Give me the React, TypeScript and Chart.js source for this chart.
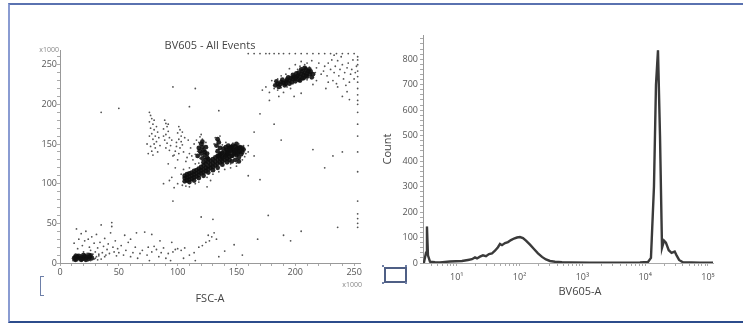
import React, { useEffect, useRef } from "react";
import { Chart, registerables } from "chart.js";
Chart.register(...registerables);

// ---------- Scatter (FSC-A vs BV605, x1000) ----------
const scatterDense: [number, number][] = [
  // debris blob
  [12, 6], [13, 8], [14, 5], [15, 7], [16, 9], [17, 6], [18, 8], [19, 5], [20, 7], [21, 9], [22, 6], [23, 8],
  [24, 5], [25, 7], [26, 9], [27, 6], [14, 9], [18, 4], [22, 4], [25, 10], [13, 4], [20, 10],
  // main streak
  [106, 103], [106, 107], [106, 110], [108, 104], [108, 108], [108, 112], [110, 105], [110, 109], [110, 113], [110, 102],
  [112, 106], [112, 110], [112, 114], [114, 108], [114, 112], [114, 116], [114, 104], [116, 109], [116, 113], [116, 117],
  [118, 111], [118, 115], [118, 119], [118, 107], [120, 113], [120, 117], [120, 121], [122, 114], [122, 118], [122, 123],
  [122, 110], [124, 116], [124, 120], [124, 125], [126, 118], [126, 122], [126, 127], [126, 114], [128, 120], [128, 124],
  [128, 129], [130, 121], [130, 126], [130, 131], [130, 117], [132, 123], [132, 128], [132, 133], [134, 125], [134, 130],
  [134, 135], [134, 120], [136, 127], [136, 132], [136, 137], [138, 128], [138, 134], [138, 139], [138, 124], [140, 130],
  [140, 136], [140, 141], [142, 132], [142, 137], [142, 143], [142, 127], [144, 134], [144, 139], [144, 145], [146, 135],
  [146, 141], [146, 146], [148, 137], [148, 142], [150, 139], [150, 144], [152, 140], [152, 145],
  // finger cores
  [120, 150], [121, 146], [122, 142], [120, 138], [123, 136], [121, 132], [124, 130], [122, 127], [125, 133], [123, 140],
  [118, 145], [119, 141], [124, 146], [121, 153], [125, 138], [126, 131], [117, 135],
  [134, 156], [135, 152], [133, 148], [136, 145], [134, 141], [137, 138], [135, 135], [138, 132],
  [143, 148], [145, 146], [147, 143], [149, 147], [151, 144], [153, 141], [148, 139], [150, 136], [152, 133], [146, 135],
  [144, 130], [154, 137], [149, 130], [142, 140], [155, 145],
  [141, 135], [143, 138], [145, 142], [147, 148], [149, 141], [151, 138], [153, 146], [155, 140], [144, 144], [150, 150],
  [152, 128], [146, 128], [156, 143], [139, 144], [141, 146],
  // top-right core
  [183, 224], [185, 226], [187, 225], [188, 228], [190, 227], [192, 229], [193, 231], [195, 230], [196, 233], [198, 232],
  [199, 235], [201, 234], [202, 236], [204, 235], [205, 238], [206, 233], [207, 237], [208, 240], [209, 236], [210, 239],
  [211, 242], [212, 238], [200, 229], [203, 231], [195, 226], [206, 242], [209, 244],
  [184, 229], [186, 222], [189, 231], [191, 224], [194, 234], [197, 228], [198, 237], [201, 239], [203, 240], [204, 230],
  [207, 233], [210, 235], [213, 241], [212, 244], [205, 244], [208, 246], [215, 238], [214, 234], [200, 232], [192, 226],
];

const scatterSparse: [number, number][] = [
  // fingers
  [76, 190], [77, 186], [78, 182], [76, 178], [79, 175], [77, 170], [80, 168], [78, 163], [81, 160], [79, 156], [82, 153],
  [80, 150], [77, 147], [81, 145], [78, 141], [75, 138], [79, 136], [82, 172], [80, 180], [83, 165], [84, 158], [76, 160],
  [74, 150], [85, 148], [83, 140],
  [89, 180], [90, 176], [91, 172], [88, 169], [92, 166], [90, 162], [93, 158], [89, 155], [91, 151], [94, 148], [90, 145],
  [88, 160], [92, 175], [95, 155], [93, 142],
  [101, 172], [102, 168], [100, 164], [103, 160], [101, 156], [99, 152], [104, 149], [102, 145], [98, 141], [101, 138],
  [97, 136], [105, 140], [103, 153], [106, 158], [99, 147], [104, 165],
  [96, 135], [100, 130], [108, 133], [110, 138], [112, 135], [107, 128], [113, 130], [115, 137], [111, 145], [114, 150], [109, 155],
  [119, 159], [121, 156], [118, 152], [122, 150], [120, 147], [123, 144], [117, 141], [121, 138], [124, 135], [119, 132],
  [122, 129], [118, 126], [125, 124], [116, 155], [124, 152], [120, 162],
  [132, 158], [136, 160], [131, 150], [138, 149], [133, 140], [139, 142],
  [152, 150], [156, 148], [157, 143], [158, 138], [160, 140], [155, 130], [150, 126], [145, 125], [157, 134], [141, 152], [147, 151],
  // around main cluster
  [100, 100], [97, 95], [95, 108], [104, 98], [107, 97], [103, 112], [110, 96], [115, 100], [118, 102], [125, 108],
  [130, 112], [135, 115], [140, 118], [145, 120], [150, 122], [125, 96], [128, 104], [110, 120], [105, 118], [115, 125],
  [160, 148], [165, 135], [130, 55], [96, 78], [93, 104], [88, 100], [98, 120], [92, 125],
  // top-right scatter
  [172, 218], [175, 222], [178, 215], [180, 230], [182, 220], [185, 218], [188, 221], [190, 215], [193, 222], [196, 220],
  [198, 226], [200, 240], [202, 244], [204, 248], [206, 246], [208, 250], [210, 231], [212, 247], [214, 243], [215, 236],
  [217, 240], [218, 246], [220, 252], [222, 238], [224, 242], [225, 248], [227, 236], [228, 252], [230, 244], [231, 256],
  [233, 240], [234, 248], [236, 255], [237, 236], [238, 244], [240, 250], [241, 232], [242, 240], [244, 246], [245, 252],
  [246, 228], [247, 238], [248, 244], [249, 256], [250, 232], [251, 240], [252, 248], [228, 228], [232, 230], [226, 220],
  [236, 222], [244, 216], [240, 210], [246, 206], [215, 225], [218, 230], [210, 252], [214, 255], [205, 254], [200, 250],
  [195, 245], [192, 238], [188, 236], [185, 232], [199, 210], [205, 214], [186, 210], [178, 205], [235, 226], [243, 224],
  [239, 260], [233, 262],
  // top edge
  [160, 264], [165, 264], [170, 264], [175, 264], [178, 264], [182, 264], [186, 264], [190, 264], [195, 264], [200, 264],
  [205, 264], [210, 264], [215, 264], [220, 264], [225, 264], [230, 264], [235, 264], [240, 264], [245, 264], [250, 264],
  // right edge column
  [253, 45], [253, 50], [253, 56], [253, 62], [253, 78], [253, 115], [253, 140], [253, 160], [253, 175], [253, 190],
  [253, 200], [253, 205], [253, 212], [253, 220], [253, 228], [253, 235], [253, 242], [253, 250], [253, 256], [253, 260],
  // isolated
  [35, 190], [50, 195], [96, 222], [110, 197], [115, 220], [135, 192], [165, 165], [170, 188], [182, 175], [188, 155],
  [215, 143], [225, 120], [232, 135], [240, 140], [170, 105], [160, 110], [177, 60], [168, 30], [190, 35], [196, 28],
  [205, 40], [236, 45], [148, 23], [155, 10],
  // low scatter
  [12, 25], [14, 43], [15, 18], [16, 30], [18, 37], [19, 22], [20, 14], [21, 28], [22, 40], [23, 12], [24, 30], [25, 20],
  [26, 16], [27, 33], [28, 11], [29, 25], [30, 14], [31, 36], [32, 19], [33, 9], [34, 26], [35, 48], [36, 13], [37, 21],
  [38, 31], [39, 10], [40, 17], [41, 24], [42, 12], [43, 38], [44, 51], [44, 46], [45, 20], [46, 14], [47, 28], [48, 9],
  [49, 18], [50, 13], [52, 22], [54, 10], [56, 16], [58, 26], [60, 8], [62, 13], [64, 20], [66, 6], [68, 12], [70, 16],
  [72, 39], [74, 10], [75, 20], [76, 3], [78, 14], [80, 21], [82, 17], [84, 8], [86, 13], [88, 19], [90, 6], [92, 12],
  [94, 3], [96, 14], [98, 17], [100, 18], [103, 16], [106, 19], [110, 10], [114, 13], [118, 20], [121, 22], [124, 26],
  [127, 28], [129, 33], [131, 38], [133, 30], [126, 35], [135, 8], [120, 58], [60, 30], [55, 35], [65, 38], [85, 28],
  [78, 36], [95, 26], [105, 6], [115, 3], [140, 15], [17, 10], [20, 12], [24, 12], [28, 8], [30, 6], [32, 4], [26, 3],
  [35, 5], [38, 8], [11, 3], [13, 11], [15, 3], [19, 11], [23, 3], [27, 11], [29, 5], [31, 8], [33, 11],
];

const scatterXTickLabels = [0, 50, 100, 150, 200, 250];
const scatterYTickLabels = [0, 50, 100, 150, 200, 250];

// ---------- Histogram (BV605-A, biexponential, decades) ----------
const histDecade: number[] = [
  0.462, 0.478, 0.51, 0.525, 0.541, 0.573, 0.653, 0.732, 0.812, 0.892, 0.987, 1.083, 1.178, 1.242, 1.29, 1.322, 1.369,
  1.417, 1.465, 1.513, 1.561, 1.608, 1.656, 1.688, 1.72, 1.768, 1.815, 1.863, 1.911, 1.959, 2.006, 2.054, 2.102, 2.166,
  2.229, 2.293, 2.357, 2.42, 2.484, 2.564, 2.675, 2.803, 3.121, 3.599, 3.917, 4.045, 4.092, 4.14, 4.172, 4.204, 4.236,
  4.268, 4.3, 4.33, 4.375, 4.42, 4.47, 4.5, 4.54, 4.6, 4.873, 5.08,
];
const histCount: number[] = [
  2, 3, 40, 143, 30, 5, 3, 2, 4, 6, 7, 8, 12, 15, 22, 18, 25,
  30, 27, 35, 38, 48, 62, 75, 70, 78, 82, 90, 96, 100, 102, 98, 88, 72,
  55, 38, 24, 14, 8, 5, 3, 2, 1, 1, 2, 4, 20, 300, 700, 835, 500,
  60, 88, 80, 50, 40, 45, 30, 12, 3, 1, 1,
];
const histXTickDecades = [1, 2, 3, 4, 5];
const histXTickLabels = ["10¹", "10²", "10³", "10⁴", "10⁵"];
const histYTickLabels = [0, 100, 200, 300, 400, 500, 600, 700, 800];

const FONT = "'Open Sans', 'Noto Sans', sans-serif";
const tickFont = { family: FONT, size: 9 };

const x1000Plugin = {
  id: "x1000",
  afterDraw(chart: any) {
    const { ctx, chartArea } = chart;
    ctx.save();
    ctx.fillStyle = "#888";
    ctx.font = `7px ${FONT}`;
    ctx.textAlign = "right";
    ctx.textBaseline = "middle";
    ctx.fillText("x1000", chartArea.left - 1, chartArea.top);
    ctx.fillText("x1000", chartArea.right + 2, chartArea.bottom + 22);
    ctx.restore();
  },
};

const histTitlePlugin = {
  id: "histTitle",
  afterDraw(chart: any) {
    const { ctx, chartArea } = chart;
    ctx.save();
    ctx.fillStyle = "#444";
    ctx.font = `11px ${FONT}`;
    ctx.textAlign = "center";
    ctx.textBaseline = "middle";
    ctx.fillText("BV605-A", (chartArea.left + chartArea.right) / 2 + 12, chartArea.bottom + 29);
    ctx.restore();
  },
};

function ScatterChart() {
  const ref = useRef<HTMLCanvasElement>(null);
  useEffect(() => {
    const chart = new Chart(ref.current!, {
      type: "scatter",
      data: {
        datasets: [
          {
            data: scatterSparse.map(([x, y]) => ({ x, y })),
            pointRadius: 0.9,
            pointBorderWidth: 0,
            backgroundColor: "rgba(40,40,40,0.8)",
          },
          {
            data: scatterDense.map(([x, y]) => ({ x, y })),
            pointRadius: 2.4,
            pointBorderWidth: 0,
            backgroundColor: "rgba(15,15,15,0.9)",
          },
        ],
      },
      options: {
        animation: false,
        responsive: false,
        events: [],
        layout: { padding: { left: 20, right: 12, top: 41.6, bottom: 10 } },
        plugins: {
          legend: { display: false },
          tooltip: { enabled: false },
          title: {
            display: true,
            fullSize: false,
            text: "BV605 - All Events",
            color: "#444",
            font: { family: FONT, size: 11, weight: "normal", lineHeight: 0.8 },
            padding: 0,
          },
        },
        scales: {
          x: {
            type: "linear",
            min: 0,
            max: 255,
            afterBuildTicks: (s: any) => {
              const t = [];
              for (let v = 0; v <= 250; v += 10) t.push({ value: v });
              s.ticks = t;
            },
            afterFit: (s: any) => {
              s.height = 50;
            },
            ticks: {
              autoSkip: false,
              maxRotation: 0,
              padding: 1,
              color: "#555",
              font: tickFont,
              callback: (v: any) => (scatterXTickLabels.includes(v) ? String(v) : ""),
            },
            grid: { drawOnChartArea: false, tickLength: 3, color: "#aaa" },
            border: { color: "#999" },
            title: {
              display: true,
              text: "FSC-A",
              color: "#444",
              font: { family: FONT, size: 11 },
              padding: { top: 0, bottom: 7.4 },
            },
          },
          y: {
            type: "linear",
            min: 0,
            max: 268,
            afterBuildTicks: (s: any) => {
              const t = [];
              for (let v = 0; v <= 260; v += 10) t.push({ value: v });
              s.ticks = t;
            },
            afterFit: (s: any) => {
              s.width = 40;
            },
            ticks: {
              autoSkip: false,
              padding: 0,
              color: "#555",
              font: tickFont,
              callback: (v: any) => (scatterYTickLabels.includes(v) ? String(v) : ""),
            },
            grid: { drawOnChartArea: false, tickLength: 3, color: "#aaa" },
            border: { color: "#999" },
          },
        },
      },
      plugins: [x1000Plugin],
    });
    return () => chart.destroy();
  }, []);
  return <canvas ref={ref} width={372} height={323} style={{ position: "absolute", left: 0, top: 0 }} />;
}

function HistChart() {
  const ref = useRef<HTMLCanvasElement>(null);
  useEffect(() => {
    const pts = histDecade.map((x, i) => ({ x, y: histCount[i] }));
    const chart = new Chart(ref.current!, {
      type: "scatter",
      data: {
        datasets: [
          {
            data: pts,
            showLine: true,
            pointRadius: 0,
            borderColor: "#3a3a3a",
            borderWidth: 2.4,
            tension: 0,
          },
          {
            data: pts,
            showLine: true,
            pointRadius: 0,
            borderColor: "#9a9a9a",
            borderWidth: 0.7,
            tension: 0,
          },
        ],
      },
      options: {
        animation: false,
        responsive: false,
        events: [],
        layout: { padding: { left: 9, right: 30, top: 35, bottom: 10 } },
        plugins: { legend: { display: false }, tooltip: { enabled: false } },
        scales: {
          x: {
            type: "linear",
            min: 0.462,
            max: 5.08,
            afterBuildTicks: (s: any) => {
              const t = [];
              for (let d = 0; d <= 5; d++) {
                for (let m = 1; m <= 9; m++) {
                  const v = d + Math.log10(m);
                  if (v >= 0.55 && v <= 5.08) t.push({ value: v });
                }
              }
              s.ticks = t;
            },
            afterFit: (s: any) => {
              s.height = 50;
            },
            ticks: {
              autoSkip: false,
              maxRotation: 0,
              padding: 6,
              color: "#555",
              font: tickFont,
              callback: (v: any) => {
                const i = histXTickDecades.findIndex((d) => Math.abs(d - v) < 1e-6);
                return i >= 0 ? histXTickLabels[i] : "";
              },
            },
            grid: { drawOnChartArea: false, tickLength: 3, color: "#aaa" },
            border: { color: "#aaa" },
          },
          y: {
            type: "linear",
            min: 0,
            max: 895,
            afterBuildTicks: (s: any) => {
              const t = [];
              for (let v = 0; v <= 880; v += 20) t.push({ value: v });
              s.ticks = t;
            },
            afterFit: (s: any) => {
              s.width = 42;
            },
            ticks: {
              autoSkip: false,
              padding: 2,
              color: "#555",
              font: tickFont,
              callback: (v: any) => (histYTickLabels.includes(v) ? String(v) : ""),
            },
            grid: { drawOnChartArea: false, tickLength: 3, color: "#aaa" },
            border: { color: "#999" },
            title: {
              display: true,
              text: "Count",
              color: "#444",
              font: { family: FONT, size: 11 },
              padding: 0,
            },
          },
        },
      },
      plugins: [histTitlePlugin],
    });
    return () => chart.destroy();
  }, []);
  return <canvas ref={ref} width={371} height={323} style={{ position: "absolute", left: 372, top: 0 }} />;
}

export default function App() {
  return (
    <div
      style={{
        position: "fixed",
        left: 0,
        top: 0,
        width: 743,
        height: 323,
        overflow: "hidden",
        background: "#fff",
      }}
    >
      <div
        style={{
          position: "absolute",
          left: 8,
          top: 3,
          width: 760,
          height: 316,
          borderTop: "2px solid #5a72b0",
          borderLeft: "2px solid #8a9cd2",
          borderBottom: "2px solid #2c4c8c",
        }}
      />
      <ScatterChart />
      <HistChart />
      {/* small bracket icon under left plot */}
      <div
        style={{
          position: "absolute",
          left: 40,
          top: 276,
          width: 3,
          height: 18,
          borderLeft: "1px solid #6d7fa8",
          borderTop: "1px solid #6d7fa8",
          borderBottom: "1px solid #6d7fa8",
        }}
      />
      {/* gate rectangle icon under histogram */}
      <div
        style={{
          position: "absolute",
          left: 384,
          top: 267,
          width: 19,
          height: 12,
          border: "2px solid #4f5f85",
          background: "#fff",
        }}
      />
      {[
        [382, 265],
        [405, 265],
        [382, 282],
        [405, 282],
      ].map(([l, t], i) => (
        <div
          key={i}
          style={{ position: "absolute", left: l, top: t, width: 2, height: 2, background: "#6f7fa5" }}
        />
      ))}
    </div>
  );
}
